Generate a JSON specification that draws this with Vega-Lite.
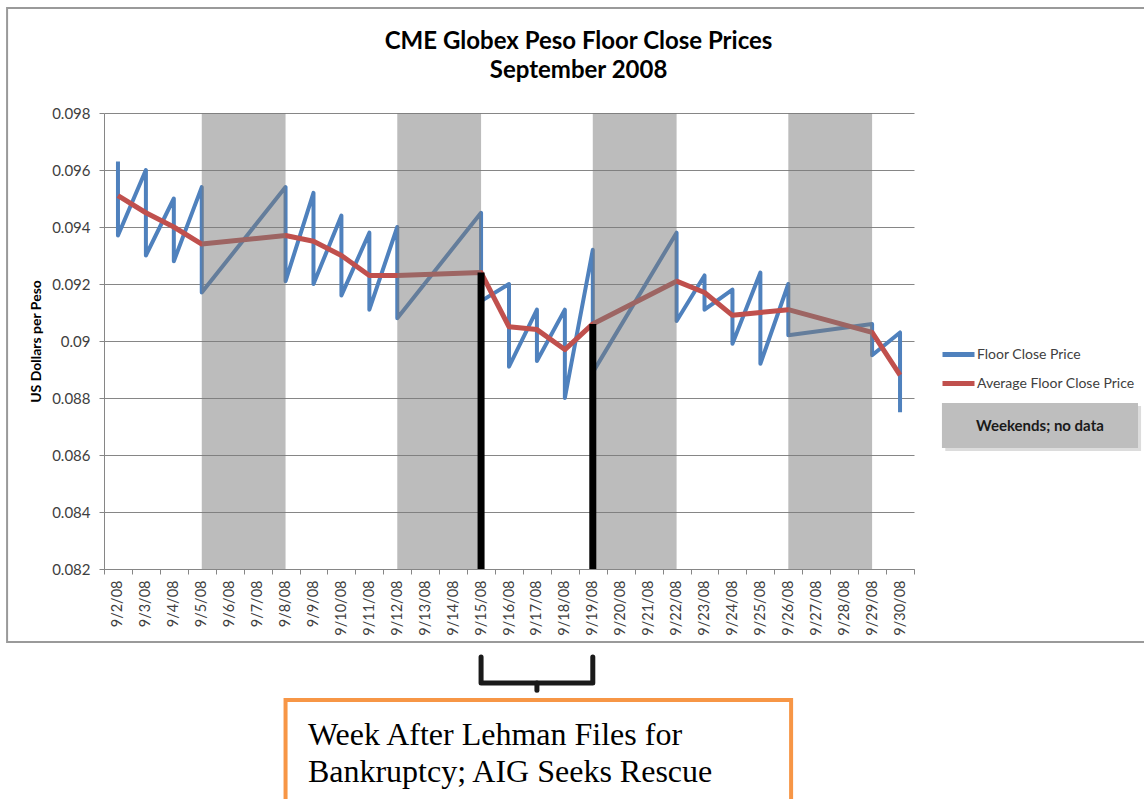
{
  "$schema": "https://vega.github.io/schema/vega-lite/v6.json",
  "width": 810,
  "height": 456,
  "autosize": {"type": "none"},
  "padding": {"left": 104, "top": 113, "right": 230, "bottom": 230},
  "background": "white",
  "title": {
    "text": ["CME Globex Peso Floor Close Prices", "September 2008"],
    "anchor": "middle",
    "frame": "bounds",
    "offset": -76,
    "font": "Lato",
    "fontSize": 24,
    "fontWeight": "bold",
    "color": "#000000",
    "lineHeight": 29
  },
  "config": {
    "view": {"stroke": null},
    "font": "Lato",
    "axis": {"labelFont": "Lato", "titleFont": "Lato", "domainColor": "#868686", "tickColor": "#868686", "gridColor": "#868686"}
  },
  "datasets": {
    "floor": [
      {"day": 2, "seq": 1, "series": "Floor Close Price", "price": 0.0963},
      {"day": 2, "seq": 2, "series": "Floor Close Price", "price": 0.0937},
      {"day": 3, "seq": 3, "series": "Floor Close Price", "price": 0.0960},
      {"day": 3, "seq": 4, "series": "Floor Close Price", "price": 0.0930},
      {"day": 4, "seq": 5, "series": "Floor Close Price", "price": 0.0950},
      {"day": 4, "seq": 6, "series": "Floor Close Price", "price": 0.0928},
      {"day": 5, "seq": 7, "series": "Floor Close Price", "price": 0.0954},
      {"day": 5, "seq": 8, "series": "Floor Close Price", "price": 0.0917},
      {"day": 8, "seq": 9, "series": "Floor Close Price", "price": 0.0954},
      {"day": 8, "seq": 10, "series": "Floor Close Price", "price": 0.0921},
      {"day": 9, "seq": 11, "series": "Floor Close Price", "price": 0.0952},
      {"day": 9, "seq": 12, "series": "Floor Close Price", "price": 0.0920},
      {"day": 10, "seq": 13, "series": "Floor Close Price", "price": 0.0944},
      {"day": 10, "seq": 14, "series": "Floor Close Price", "price": 0.0916},
      {"day": 11, "seq": 15, "series": "Floor Close Price", "price": 0.0938},
      {"day": 11, "seq": 16, "series": "Floor Close Price", "price": 0.0911},
      {"day": 12, "seq": 17, "series": "Floor Close Price", "price": 0.0940},
      {"day": 12, "seq": 18, "series": "Floor Close Price", "price": 0.0908},
      {"day": 15, "seq": 19, "series": "Floor Close Price", "price": 0.0945},
      {"day": 15, "seq": 20, "series": "Floor Close Price", "price": 0.0914},
      {"day": 16, "seq": 21, "series": "Floor Close Price", "price": 0.0920},
      {"day": 16, "seq": 22, "series": "Floor Close Price", "price": 0.0891},
      {"day": 17, "seq": 23, "series": "Floor Close Price", "price": 0.0911},
      {"day": 17, "seq": 24, "series": "Floor Close Price", "price": 0.0893},
      {"day": 18, "seq": 25, "series": "Floor Close Price", "price": 0.0911},
      {"day": 18, "seq": 26, "series": "Floor Close Price", "price": 0.0880},
      {"day": 19, "seq": 27, "series": "Floor Close Price", "price": 0.0932},
      {"day": 19, "seq": 28, "series": "Floor Close Price", "price": 0.0889},
      {"day": 22, "seq": 29, "series": "Floor Close Price", "price": 0.0938},
      {"day": 22, "seq": 30, "series": "Floor Close Price", "price": 0.0907},
      {"day": 23, "seq": 31, "series": "Floor Close Price", "price": 0.0923},
      {"day": 23, "seq": 32, "series": "Floor Close Price", "price": 0.0911},
      {"day": 24, "seq": 33, "series": "Floor Close Price", "price": 0.0918},
      {"day": 24, "seq": 34, "series": "Floor Close Price", "price": 0.0899},
      {"day": 25, "seq": 35, "series": "Floor Close Price", "price": 0.0924},
      {"day": 25, "seq": 36, "series": "Floor Close Price", "price": 0.0892},
      {"day": 26, "seq": 37, "series": "Floor Close Price", "price": 0.0920},
      {"day": 26, "seq": 38, "series": "Floor Close Price", "price": 0.0902},
      {"day": 29, "seq": 39, "series": "Floor Close Price", "price": 0.0906},
      {"day": 29, "seq": 40, "series": "Floor Close Price", "price": 0.0895},
      {"day": 30, "seq": 41, "series": "Floor Close Price", "price": 0.0903},
      {"day": 30, "seq": 42, "series": "Floor Close Price", "price": 0.0875}
    ],
    "avg": [
      {"day": 2, "series": "Average Floor Close Price", "price": 0.0951},
      {"day": 3, "series": "Average Floor Close Price", "price": 0.0945},
      {"day": 4, "series": "Average Floor Close Price", "price": 0.0940},
      {"day": 5, "series": "Average Floor Close Price", "price": 0.0934},
      {"day": 8, "series": "Average Floor Close Price", "price": 0.0937},
      {"day": 9, "series": "Average Floor Close Price", "price": 0.0935},
      {"day": 10, "series": "Average Floor Close Price", "price": 0.0930},
      {"day": 11, "series": "Average Floor Close Price", "price": 0.0923},
      {"day": 12, "series": "Average Floor Close Price", "price": 0.0923},
      {"day": 15, "series": "Average Floor Close Price", "price": 0.0924},
      {"day": 16, "series": "Average Floor Close Price", "price": 0.0905},
      {"day": 17, "series": "Average Floor Close Price", "price": 0.0904},
      {"day": 18, "series": "Average Floor Close Price", "price": 0.0897},
      {"day": 19, "series": "Average Floor Close Price", "price": 0.0906},
      {"day": 22, "series": "Average Floor Close Price", "price": 0.0921},
      {"day": 23, "series": "Average Floor Close Price", "price": 0.0917},
      {"day": 24, "series": "Average Floor Close Price", "price": 0.0909},
      {"day": 25, "series": "Average Floor Close Price", "price": 0.0910},
      {"day": 26, "series": "Average Floor Close Price", "price": 0.0911},
      {"day": 29, "series": "Average Floor Close Price", "price": 0.0903},
      {"day": 30, "series": "Average Floor Close Price", "price": 0.0888}
    ],
    "weekends": [
      {"start": 5, "end": 8},
      {"start": 12, "end": 15},
      {"start": 19, "end": 22},
      {"start": 26, "end": 29}
    ],
    "events": [
      {"day": 15, "level": 0.0924},
      {"day": 19, "level": 0.0906}
    ],
    "bracket": [
      {"day": 15, "level": 0.07891, "seq": 1},
      {"day": 15, "level": 0.0780, "seq": 2},
      {"day": 19, "level": 0.0780, "seq": 3},
      {"day": 19, "level": 0.07891, "seq": 4}
    ],
    "bracketStub": [
      {"day": 17, "top": 0.0780, "bottom": 0.07775}
    ],
    "noteBox": [
      {"x1": 8, "x2": 26.1, "top": 0.0774, "bottom": 0.0735}
    ],
    "noteText": [
      {"day": 8.8, "level": 0.07583, "label": "Week After Lehman Files for\nBankruptcy; AIG Seeks Rescue"}
    ],
    "weekendKeyShadow": [
      {"x1": 31.62, "x2": 38.63, "top": 0.08772, "bottom": 0.08614}
    ],
    "weekendKey": [
      {"x1": 31.5, "x2": 38.52, "top": 0.087825, "bottom": 0.086246, "xc": 35.01, "yc": 0.08703, "label": "Weekends; no data"}
    ],
    "frame": [
      {"x1": -1.97, "x2": 38.95, "top": 0.10168, "bottom": 0.07944}
    ]
  },
  "layer": [
    {
      "data": {"name": "floor"},
      "mark": {"type": "line", "strokeWidth": 4, "strokeJoin": "round"},
      "encoding": {
        "x": {
          "field": "day", "type": "quantitative",
          "scale": {"domain": [1.5, 30.5], "nice": false, "zero": false},
          "axis": {
            "values": [1.5, 2.5, 3.5, 4.5, 5.5, 6.5, 7.5, 8.5, 9.5, 10.5, 11.5, 12.5, 13.5, 14.5, 15.5, 16.5, 17.5, 18.5, 19.5, 20.5, 21.5, 22.5, 23.5, 24.5, 25.5, 26.5, 27.5, 28.5, 29.5, 30.5],
            "tickCount": 40,
            "labelExpr": "datum.value > 30 ? '' : '9/' + (datum.value + 0.5) + '/08'",
            "labelOffset": 13.966,
            "labelAngle": -90,
            "labelFlush": false,
            "labelOverlap": false,
            "labelFontSize": 14.5,
            "labelColor": "#404040",
            "labelPadding": 6,
            "tickSize": 5,
            "grid": false,
            "title": null
          }
        },
        "y": {
          "field": "price", "type": "quantitative",
          "scale": {"domain": [0.082, 0.098], "nice": false, "zero": false},
          "axis": {
            "values": [0.082, 0.084, 0.086, 0.088, 0.09, 0.092, 0.094, 0.096, 0.098],
            "format": ".3~f",
            "title": "US Dollars per Peso",
            "titleFontSize": 14,
            "titleFontWeight": "bold",
            "titleColor": "#000000",
            "titlePadding": 8,
            "labelFontSize": 15,
            "labelColor": "#404040",
            "labelPadding": 9,
            "tickSize": 5,
            "grid": true
          }
        },
        "order": {"field": "seq", "type": "quantitative"},
        "color": {
          "field": "series", "type": "nominal",
          "scale": {"domain": ["Floor Close Price", "Average Floor Close Price"], "range": ["#4f81bd", "#c0504d"]},
          "legend": {
            "orient": "none", "legendX": 836, "legendY": 223, "title": null,
            "symbolType": "stroke", "symbolSize": 1024, "symbolStrokeWidth": 5,
            "labelFontSize": 14, "labelColor": "#404040", "labelOffset": 0,
            "rowPadding": 0, "padding": 0
          }
        }
      }
    },
    {
      "data": {"name": "frame"},
      "mark": {"type": "rect", "fill": null, "fillOpacity": 0, "stroke": "#9a9a9a", "strokeWidth": 2},
      "encoding": {
        "x": {"field": "x1", "type": "quantitative", "scale": {"domain": [1.5, 30.5], "nice": false, "zero": false}},
        "x2": {"field": "x2"},
        "y": {"field": "top", "type": "quantitative", "scale": {"domain": [0.082, 0.098], "nice": false, "zero": false}},
        "y2": {"field": "bottom"}
      }
    },
    {
      "data": {"name": "avg"},
      "mark": {"type": "line", "strokeWidth": 5, "strokeJoin": "round"},
      "encoding": {
        "x": {"field": "day", "type": "quantitative", "scale": {"domain": [1.5, 30.5], "nice": false, "zero": false}},
        "y": {"field": "price", "type": "quantitative", "scale": {"domain": [0.082, 0.098], "nice": false, "zero": false}},
        "color": {
          "field": "series", "type": "nominal",
          "scale": {"domain": ["Floor Close Price", "Average Floor Close Price"], "range": ["#4f81bd", "#c0504d"]},
          "legend": {
            "orient": "none", "legendX": 836, "legendY": 223, "title": null,
            "symbolType": "stroke", "symbolSize": 1024, "symbolStrokeWidth": 5,
            "labelFontSize": 14, "labelColor": "#404040", "labelOffset": 0,
            "rowPadding": 0, "padding": 0
          }
        }
      }
    },
    {
      "data": {"name": "weekends"},
      "mark": {"type": "rect", "fill": "#7a7a7a", "opacity": 0.5},
      "encoding": {
        "x": {"field": "start", "type": "quantitative", "scale": {"domain": [1.5, 30.5], "nice": false, "zero": false}},
        "x2": {"field": "end"},
        "y": {"datum": 0.082, "type": "quantitative", "scale": {"domain": [0.082, 0.098], "nice": false, "zero": false}},
        "y2": {"datum": 0.098}
      }
    },
    {
      "data": {"name": "events"},
      "mark": {"type": "rule", "color": "#000000", "strokeWidth": 7},
      "encoding": {
        "x": {"field": "day", "type": "quantitative", "scale": {"domain": [1.5, 30.5], "nice": false, "zero": false}},
        "y": {"field": "level", "type": "quantitative", "scale": {"domain": [0.082, 0.098], "nice": false, "zero": false}},
        "y2": {"datum": 0.082}
      }
    },
    {
      "data": {"name": "bracket"},
      "mark": {"type": "line", "color": "#1a1a1a", "strokeWidth": 5, "strokeJoin": "round", "strokeCap": "round"},
      "encoding": {
        "x": {"field": "day", "type": "quantitative", "scale": {"domain": [1.5, 30.5], "nice": false, "zero": false}},
        "y": {"field": "level", "type": "quantitative", "scale": {"domain": [0.082, 0.098], "nice": false, "zero": false}},
        "order": {"field": "seq", "type": "quantitative"}
      }
    },
    {
      "data": {"name": "bracketStub"},
      "mark": {"type": "rule", "color": "#1a1a1a", "strokeWidth": 5, "strokeCap": "round"},
      "encoding": {
        "x": {"field": "day", "type": "quantitative", "scale": {"domain": [1.5, 30.5], "nice": false, "zero": false}},
        "y": {"field": "top", "type": "quantitative", "scale": {"domain": [0.082, 0.098], "nice": false, "zero": false}},
        "y2": {"field": "bottom"}
      }
    },
    {
      "data": {"name": "noteBox"},
      "mark": {"type": "rect", "fill": "#ffffff", "stroke": "#f79646", "strokeWidth": 4},
      "encoding": {
        "x": {"field": "x1", "type": "quantitative", "scale": {"domain": [1.5, 30.5], "nice": false, "zero": false}},
        "x2": {"field": "x2"},
        "y": {"field": "top", "type": "quantitative", "scale": {"domain": [0.082, 0.098], "nice": false, "zero": false}},
        "y2": {"field": "bottom"}
      }
    },
    {
      "data": {"name": "noteText"},
      "mark": {"type": "text", "font": "Liberation Serif", "fontSize": 32, "align": "left", "baseline": "alphabetic", "lineBreak": "\n", "lineHeight": 37, "color": "#000000"},
      "encoding": {
        "x": {"field": "day", "type": "quantitative", "scale": {"domain": [1.5, 30.5], "nice": false, "zero": false}},
        "y": {"field": "level", "type": "quantitative", "scale": {"domain": [0.082, 0.098], "nice": false, "zero": false}},
        "text": {"field": "label"}
      }
    },
    {
      "data": {"name": "weekendKeyShadow"},
      "mark": {"type": "rect", "fill": "#dcdcdc"},
      "encoding": {
        "x": {"field": "x1", "type": "quantitative", "scale": {"domain": [1.5, 30.5], "nice": false, "zero": false}},
        "x2": {"field": "x2"},
        "y": {"field": "top", "type": "quantitative", "scale": {"domain": [0.082, 0.098], "nice": false, "zero": false}},
        "y2": {"field": "bottom"}
      }
    },
    {
      "data": {"name": "weekendKey"},
      "mark": {"type": "rect", "fill": "#bebebe"},
      "encoding": {
        "x": {"field": "x1", "type": "quantitative", "scale": {"domain": [1.5, 30.5], "nice": false, "zero": false}},
        "x2": {"field": "x2"},
        "y": {"field": "top", "type": "quantitative", "scale": {"domain": [0.082, 0.098], "nice": false, "zero": false}},
        "y2": {"field": "bottom"}
      }
    },
    {
      "data": {"name": "weekendKey"},
      "mark": {"type": "text", "font": "Lato", "fontSize": 15, "fontWeight": "bold", "align": "center", "baseline": "middle", "color": "#1a1a1a"},
      "encoding": {
        "x": {"field": "xc", "type": "quantitative", "scale": {"domain": [1.5, 30.5], "nice": false, "zero": false}},
        "y": {"field": "yc", "type": "quantitative", "scale": {"domain": [0.082, 0.098], "nice": false, "zero": false}},
        "text": {"field": "label"}
      }
    }
  ]
}
